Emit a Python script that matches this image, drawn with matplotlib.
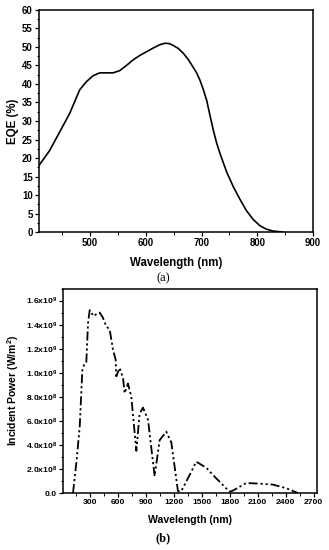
import matplotlib
matplotlib.use("Agg")
import matplotlib.pyplot as plt
from matplotlib.ticker import MultipleLocator, FuncFormatter

plt.rcParams['font.family'] = ['Liberation Sans', 'DejaVu Sans']
plt.rcParams['mathtext.fontset'] = 'custom'
plt.rcParams['mathtext.rm'] = 'Liberation Sans:bold'
plt.rcParams['mathtext.bf'] = 'Liberation Sans:bold'
plt.rcParams['mathtext.it'] = 'Liberation Sans:bold'

# (a) EQE data
eqe_wl = [408, 427, 445, 463, 481, 493, 505, 517, 529, 541, 553, 565, 577, 589,
          601, 613, 625, 634, 642, 649, 658, 667, 676, 684, 691, 697, 703, 709,
          715, 721, 727, 733, 745, 757, 769, 780, 792, 804, 816, 828, 846]
eqe_val = [18.0, 22.0, 27.0, 32.0, 38.4, 40.6, 42.2, 43.0, 43.0, 43.0, 43.6, 45.0,
           46.5, 47.7, 48.7, 49.7, 50.6, 51.0, 50.9, 50.4, 49.6, 48.3, 46.6, 44.7,
           43.0, 41.0, 38.5, 35.6, 31.5, 27.5, 24.0, 21.2, 16.2, 12.2, 8.8, 5.9,
           3.5, 1.8, 0.8, 0.3, 0.0]

# (b) Incident power data
pw_wl = [121, 157, 193, 221, 246, 264, 282, 300, 342, 375, 407, 440, 478, 514,
         550, 578, 585, 621, 657, 675, 710, 746, 800, 835, 871, 925, 996, 1050,
         1121, 1175, 1246, 1281, 1371, 1442, 1550, 1621, 1799, 1835, 1978, 2121,
         2263, 2406, 2531]
pw_val = [0.0, 0.25e9, 0.55e9, 1.02e9, 1.08e9, 1.09e9, 1.41e9, 1.52e9, 1.47e9,
          1.49e9, 1.50e9, 1.46e9, 1.385e9, 1.36e9, 1.19e9, 1.11e9, 0.97e9, 1.04e9,
          0.956e9, 0.83e9, 0.91e9, 0.80e9, 0.35e9, 0.66e9, 0.71e9, 0.61e9, 0.14e9,
          0.44e9, 0.51e9, 0.42e9, 0.015e9, 0.015e9, 0.15e9, 0.26e9, 0.21e9, 0.15e9,
          0.01e9, 0.02e9, 0.083e9, 0.078e9, 0.07e9, 0.04e9, 0.0]

fig = plt.figure(figsize=(3.29, 5.5), dpi=100)

def style(ax, fs):
    for s in ax.spines.values():
        s.set_linewidth(1.1)
    ax.tick_params(which='major', direction='out', length=3, width=0.9,
                   labelsize=fs, pad=1.5)
    ax.tick_params(which='minor', direction='out', length=1.8, width=0.7)
    for lbl in ax.get_xticklabels() + ax.get_yticklabels():
        lbl.set_fontweight('bold')

# (a)
ax1 = fig.add_axes([0.1185, 0.578, 0.833, 0.404])
ax1.plot(eqe_wl, eqe_val, color='black', lw=1.2)
ax1.set_xlim(408, 900)
ax1.set_ylim(0, 60)
ax1.xaxis.set_major_locator(MultipleLocator(100))
ax1.xaxis.set_minor_locator(MultipleLocator(50))
ax1.yaxis.set_major_locator(MultipleLocator(5))
ax1.yaxis.set_minor_locator(MultipleLocator(2.5))
style(ax1, 6.9)
ax1.set_xlabel('Wavelength (nm)', fontsize=8.3, fontweight='bold', labelpad=6)
ax1.set_ylabel('EQE (%)', fontsize=8.3, fontweight='bold', labelpad=2)
fig.text(0.495, 1 - 278 / 550, '(a)', ha='center', va='center',
         fontsize=9, family='Liberation Serif')

# (b)
ax2 = fig.add_axes([0.1915, 0.1036, 0.772, 0.3718])
ax2.plot(pw_wl, pw_val, color='black', lw=1.3,
         dashes=(5, 1.6, 1.2, 1.6, 1.2, 1.6))
ax2.set_xlim(14, 2736)
ax2.set_ylim(0, 1.70e9)
ax2.xaxis.set_major_locator(MultipleLocator(300))
ax2.xaxis.set_minor_locator(MultipleLocator(150))
ax2.yaxis.set_major_locator(MultipleLocator(0.2e9))
ax2.yaxis.set_minor_locator(MultipleLocator(0.1e9))

def fmt(v, pos):
    if abs(v) < 1:
        return '0.0'
    if v >= 1e9 - 1:
        return r'%.1fx10$^{9}$' % (v / 1e9)
    return r'%.1fx10$^{8}$' % (v / 1e8)

ax2.yaxis.set_major_formatter(FuncFormatter(fmt))
style(ax2, 6.1)
ax2.set_xlabel('Wavelength (nm)', fontsize=7.6, fontweight='bold', labelpad=6.5)
ax2.set_ylabel('Incident Power (W/m$^2$)', fontsize=7.5, fontweight='bold',
               labelpad=3)
fig.text(0.495, 1 - 538 / 550, '(b)', ha='center', va='center',
         fontsize=9, family='Liberation Serif', fontweight='bold')

fig.savefig('out.png', dpi=100)
